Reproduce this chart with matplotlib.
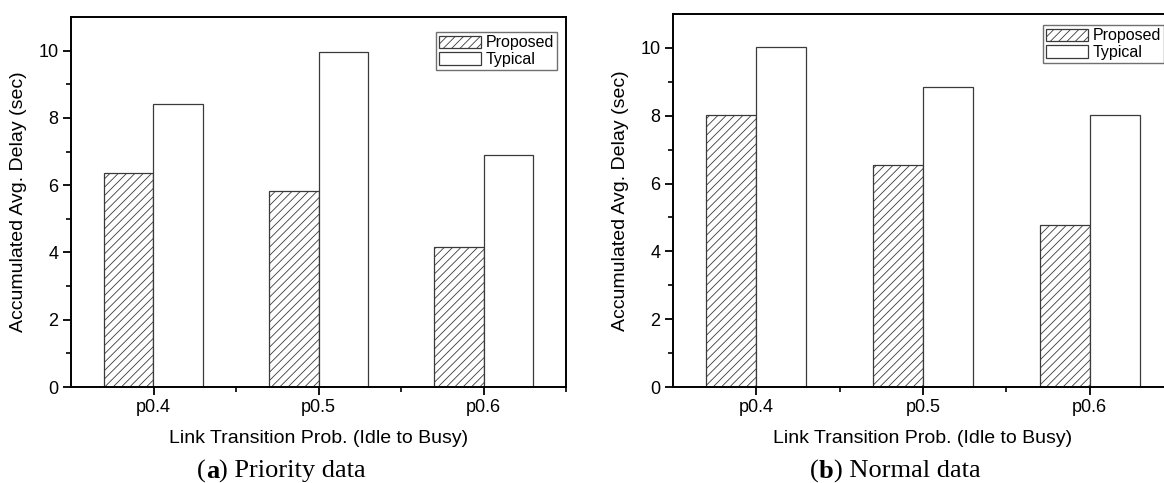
import matplotlib.pyplot as plt
import numpy as np

plt.rcParams['font.family'] = ['Liberation Sans', 'DejaVu Sans']
plt.rcParams['hatch.linewidth'] = 0.6
plt.rcParams['hatch.color'] = '#404040'

categories = ["p0.4", "p0.5", "p0.6"]
series_names = ["Proposed", "Typical"]

# panel (a) priority data
priority_proposed = [6.37, 5.84, 4.17]
priority_typical = [8.41, 9.96, 6.91]

# panel (b) normal data
normal_proposed = [8.02, 6.55, 4.79]
normal_typical = [10.04, 8.86, 8.02]

y_ticks = [0, 2, 4, 6, 8, 10]
x_label = "Link Transition Prob. (Idle to Busy)"
y_label = "Accumulated Avg. Delay (sec)"
captions = [("a", " Priority data"), ("b", " Normal data")]

W, H = 1164, 483
fig = plt.figure(figsize=(W / 100, H / 100), dpi=100)


def px_axes(left, top, right, bottom):
    return fig.add_axes([left / W, 1 - bottom / H, (right - left) / W, (bottom - top) / H])


def draw_panel(ax, proposed, typical, leg_anchor):
    x = np.arange(1, len(categories) + 1)
    width = 0.3
    ax.bar(x - width / 2, proposed, width, color="white", edgecolor="#3a3a3a",
           linewidth=0.9, hatch="////", label=series_names[0])
    ax.bar(x + width / 2, typical, width, color="white", edgecolor="#3a3a3a",
           linewidth=0.9, label=series_names[1])

    ax.set_xlim(0.5, 3.5)
    ax.set_ylim(0, 11)
    ax.set_xticks(x)
    ax.set_xticklabels(categories)
    ax.set_xticks([1.5, 2.5, 3.5], minor=True)
    ax.set_yticks(y_ticks)
    ax.set_yticks([1, 3, 5, 7, 9], minor=True)
    ax.tick_params(axis="both", which="major", direction="out", length=6,
                   width=1.3, labelsize=13, colors="black", pad=3)
    ax.tick_params(axis="both", which="minor", direction="out", length=3.5, width=1.2)
    for s in ax.spines.values():
        s.set_linewidth(1.4)
        s.set_color("black")

    ax.set_xlabel(x_label, fontsize=14, labelpad=10)
    ax.set_ylabel(y_label, fontsize=14, labelpad=8)

    leg = ax.legend(loc="upper right", bbox_to_anchor=leg_anchor, fontsize=11.5,
                    frameon=True, fancybox=False, framealpha=1, edgecolor="#707070",
                    handlelength=2.6, handleheight=0.8, handletextpad=0.3,
                    borderpad=0.2, labelspacing=0.12, borderaxespad=0)
    leg.get_frame().set_linewidth(1.0)


ax1 = px_axes(71, 17, 566, 387)
draw_panel(ax1, priority_proposed, priority_typical, (1 - 9 / 495, 1 - 15 / 370))

ax2 = px_axes(673, 14, 1173, 387)
draw_panel(ax2, normal_proposed, normal_typical, (1 - 9 / 500, 1 - 11 / 373))

# sub-figure captions, serif with bold letter
for (letter, rest), cx in zip(captions, [197, 810]):
    t1 = fig.text(cx / W, 1 - 478 / H, "(", family="Liberation Serif",
                  fontsize=19, va="baseline", ha="left")
    ann = plt.annotate(letter, xy=(1, 0), xycoords=t1, va="bottom", ha="left",
                       family="Liberation Serif", fontsize=19, weight="bold",
                       annotation_clip=False)
    plt.annotate(")" + rest, xy=(1, 0), xycoords=ann, va="bottom", ha="left",
                 family="Liberation Serif", fontsize=19, annotation_clip=False)

fig.savefig("out.png", dpi=100)
